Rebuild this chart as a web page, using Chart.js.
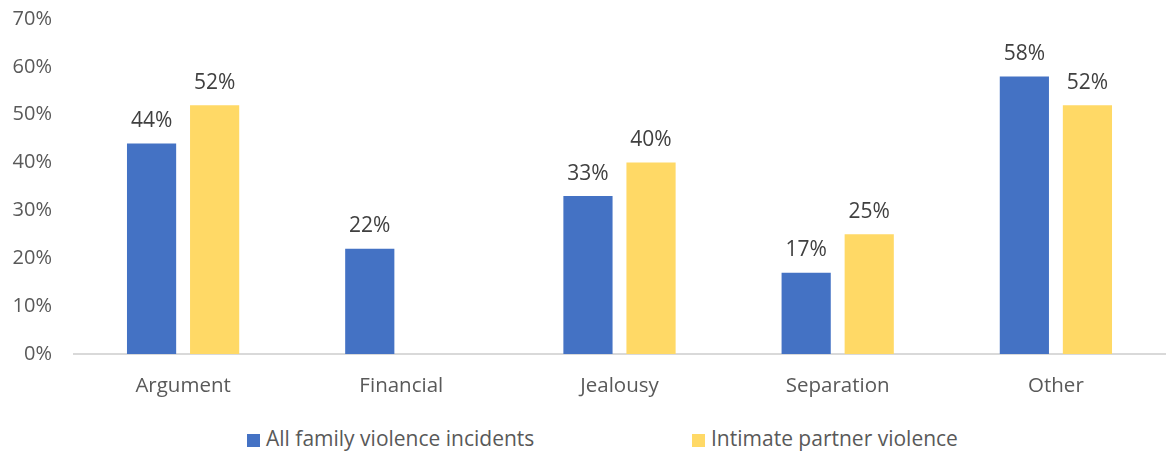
<!DOCTYPE html>
<html>
<head>
<meta charset="utf-8">
<script src="https://cdn.jsdelivr.net/npm/chart.js@4"></script>
<style>
  html, body { margin: 0; padding: 0; background: #fff; }
  #wrap { width: 1167px; height: 412px; position: relative; }
  #legend { position: absolute; top: 424px; left: 0; width: 1167px; height: 28px;
            font-family: "Open Sans", "Noto Sans", sans-serif; font-size: 21px; color: #595959; }
  .item { position: absolute; top: 0; white-space: nowrap; line-height: 28px; }
  .box { display: inline-block; width: 13px; height: 13px; margin-right: 6px; vertical-align: -1px; }
</style>
</head>
<body>
<div id="wrap"><canvas id="chart"></canvas></div>
<div id="legend"></div>
<script>
var categories = ['Argument', 'Financial', 'Jealousy', 'Separation', 'Other'];
var familyViolence = [44, 22, 33, 17, 58];
var partnerViolence = [52, null, 40, 25, 52];
var yTicks = [0, 10, 20, 30, 40, 50, 60, 70];

var fontName = '"Open Sans", "Noto Sans", sans-serif';

// draws the % value above each bar
var barLabels = {
    id: 'barLabels',
    afterDatasetsDraw: function (chart) {
        var ctx = chart.ctx;
        ctx.save();
        ctx.font = '21px ' + fontName;
        ctx.fillStyle = '#404040';
        ctx.textAlign = 'center';
        ctx.textBaseline = 'bottom';
        chart.data.datasets.forEach(function (ds, i) {
            var meta = chart.getDatasetMeta(i);
            meta.data.forEach(function (bar, j) {
                if (ds.data[j] == null) return;
                ctx.fillText(ds.data[j] + '%', bar.x, bar.y - 12);
            });
        });
        ctx.restore();
    }
};

var ctx = document.getElementById('chart').getContext('2d');
var chart = new Chart(ctx, {
    type: 'bar',
    data: {
        labels: categories,
        datasets: [{
            label: 'All family violence incidents',
            data: familyViolence,
            backgroundColor: '#4472c4',
            barPercentage: 0.78,
            categoryPercentage: 0.578
        }, {
            label: 'Intimate partner violence',
            data: partnerViolence,
            backgroundColor: '#ffd966',
            barPercentage: 0.78,
            categoryPercentage: 0.578
        }]
    },
    options: {
        responsive: true,
        maintainAspectRatio: false,
        animation: false,
        layout: { padding: { left: 0, right: 2, top: 19, bottom: 0 } },
        scales: {
            x: {
                grid: { display: false },
                border: { display: true, color: '#d9d9d9', width: 2 },
                ticks: { color: '#595959', font: { family: fontName, size: 20.5 }, padding: 12 },
                afterFit: function (axis) { axis.height = 58; }
            },
            y: {
                min: 0,
                max: 70,
                afterBuildTicks: function (axis) {
                    axis.ticks = yTicks.map(function (v) { return { value: v }; });
                },
                afterFit: function (axis) {
                    axis.width = 74;
                    axis.paddingTop = 0;
                },
                grid: { display: false },
                border: { display: false },
                ticks: {
                    autoSkip: false,
                    color: '#595959',
                    font: { family: fontName, size: 20 },
                    padding: 14,
                    callback: function (v) { return v + '%'; }
                }
            }
        },
        plugins: {
            legend: { display: false },
            tooltip: { enabled: false }
        }
    },
    plugins: [barLabels]
});

// legend below the chart
var legendPos = [247, 692];
var legend = document.getElementById('legend');
chart.data.datasets.forEach(function (ds, i) {
    var item = document.createElement('div');
    item.className = 'item';
    item.style.left = legendPos[i] + 'px';
    var box = document.createElement('span');
    box.className = 'box';
    box.style.background = ds.backgroundColor;
    item.appendChild(box);
    item.appendChild(document.createTextNode(ds.label));
    legend.appendChild(item);
});
</script>
</body>
</html>
